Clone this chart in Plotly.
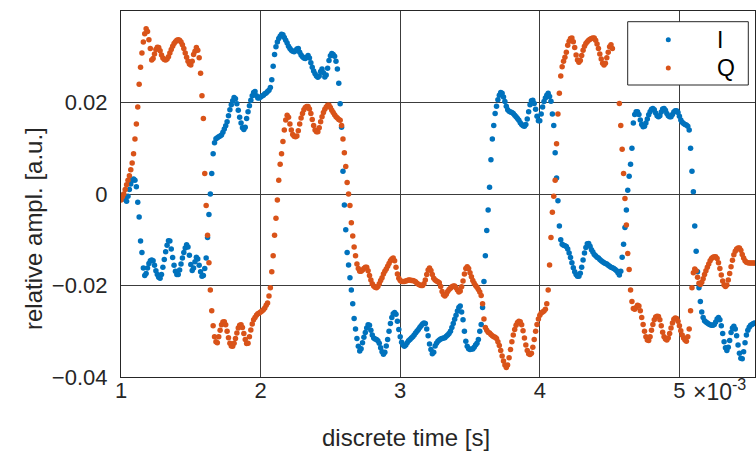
import plotly.graph_objects as go

# ---- data (time in ms, amplitudes in units of 1e-3) ----
t_start_ms = 1.00
t_step_ms = 0.01

i_milli = [
    -1.0, -0.3, -0.3, -1.2, -1.6, -0.5, 1.0, 2.2, 3.0, 3.3,
    3.0, 1.6, -1.8, -5.0, -10.3, -12.8, -16.2, -17.8, -17.4, -16.2,
    -15.2, -14.6, -14.4, -14.6, -15.6, -16.8, -17.6, -18.2, -18.4, -17.6,
    -16.0, -14.3, -12.6, -11.2, -10.2, -10.3, -12.0, -13.9, -15.6, -16.9,
    -17.6, -17.6, -16.6, -15.3, -14.0, -12.8, -11.8, -11.1, -11.6, -13.4,
    -15.4, -16.7, -16.2, -14.8, -13.8, -14.2, -15.6, -17.0, -18.0, -17.8,
    -16.3, -14.0, -9.5, -4.5, 0.0, 4.5, 8.8, 11.2, 12.1, 12.3,
    12.5, 12.7, 12.9, 13.5, 14.2, 14.9, 15.8, 17.1, 18.4, 19.5,
    20.4, 21.1, 20.8, 19.7, 18.3, 16.8, 15.5, 14.5, 14.1, 14.6,
    16.5, 18.0, 19.3, 20.5, 21.5, 22.2, 22.4, 21.5, 21.0, 21.0,
    21.2, 21.4, 21.6, 21.9, 22.1, 22.4, 22.7, 23.3, 25.0, 27.9,
    30.5, 32.2, 33.2, 34.0, 34.5, 34.9, 34.8, 34.2, 33.6, 33.0,
    32.3, 31.8, 31.4, 31.2, 31.1, 31.3, 31.7, 31.8, 31.0, 30.4,
    30.0, 29.7, 29.6, 29.9, 30.3, 29.7, 28.7, 27.7, 26.9, 26.3,
    25.8, 25.5, 25.8, 26.8, 27.3, 26.5, 25.6, 26.0, 27.5, 29.2,
    30.2, 30.7, 30.5, 30.1, 29.0, 27.3, 24.2, 19.7, 14.6, 5.0,
    -2.4, -7.8, -12.8, -15.5, -18.3, -21.0, -24.0, -27.2, -29.5, -31.6,
    -33.3, -34.3, -33.8, -32.5, -31.3, -30.3, -29.3, -28.6, -28.7, -29.8,
    -30.8, -31.5, -31.7, -31.8, -32.1, -32.6, -33.6, -34.5, -35.0, -34.6,
    -33.2, -31.8, -30.0, -28.3, -27.0, -26.2, -25.9, -26.3, -27.8, -29.6,
    -31.2, -32.4, -33.0, -33.3, -33.0, -32.5, -32.1, -31.8, -31.5, -31.2,
    -30.8, -30.4, -30.0, -29.6, -29.2, -28.8, -28.4, -28.2, -28.3, -29.5,
    -31.0, -32.8, -34.0, -34.9, -34.6, -33.2, -32.6, -32.2, -31.9, -31.7,
    -31.6, -31.5, -31.4, -31.1, -30.8, -30.5, -30.0, -29.2, -28.3, -27.4,
    -26.5, -25.6, -24.8, -24.5, -25.8, -27.5, -30.0, -32.2, -33.3, -33.8,
    -34.0, -33.9, -33.9, -33.5, -33.0, -32.6, -31.8, -30.0, -28.5, -24.8,
    -19.1, -13.5, -8.0, -3.5, 1.5, 7.5, 12.0, 15.0, 17.6, 19.2,
    20.6, 21.6, 22.2, 22.0, 21.2, 20.2, 19.2, 18.4, 18.1, 17.9,
    17.8, 17.6, 17.2, 16.9, 16.5, 16.1, 15.6, 15.2, 14.9, 14.8,
    15.2, 16.4, 18.0, 19.5, 20.4, 20.5, 19.8, 18.5, 17.0, 16.0,
    16.0, 17.5, 19.0, 20.2, 21.0, 21.6, 22.0, 21.3, 20.3, 17.5,
    15.0, 9.0, 3.5, -1.5, -7.0, -10.0, -11.0, -11.2, -11.3, -11.5,
    -12.0, -12.9, -13.9, -15.0, -16.1, -17.0, -17.6, -18.0, -18.0, -17.3,
    -16.0, -14.4, -12.9, -11.7, -10.9, -10.8, -11.4, -12.2, -12.7, -13.2,
    -13.5, -13.8, -14.0, -14.3, -14.6, -14.8, -15.0, -15.2, -15.3, -15.6,
    -15.8, -16.0, -16.1, -16.3, -16.5, -16.8, -17.2, -17.7, -16.9, -13.8,
    -11.0, -7.3, -3.5, 0.8, 3.9, 6.5, 10.0, 15.5, 17.4, 18.0,
    18.0, 17.4, 16.2, 15.2, 14.7, 14.8, 15.5, 16.4, 17.3, 18.0,
    18.5, 18.7, 18.4, 17.7, 17.1, 16.9, 17.1, 17.9, 18.6, 18.7,
    18.3, 17.6, 17.1, 16.9, 16.9, 17.4, 17.9, 18.2, 18.2, 17.8,
    17.0, 16.2, 15.7, 15.4, 15.2, 15.1, 14.8, 14.0, 10.0, 5.0,
    0.5, -7.0, -12.5, -17.0, -20.5, -23.5, -25.8, -27.0, -27.7, -28.0,
    -28.2, -28.4, -28.6, -28.7, -28.7, -28.5, -28.0, -27.3, -27.0, -27.5,
    -28.8, -30.5, -32.3, -33.6, -34.2, -33.5, -32.0, -30.3, -29.3, -28.9,
    -29.5, -31.0, -33.0, -34.8, -35.9, -36.0, -34.5, -32.5, -30.8, -29.8,
    -29.1, -28.7, -28.5, -28.3, -28.2,
]

q_milli = [
    -1.3, -0.6, 0.0, 1.0, 2.0, 3.0, 4.0, 5.3, 6.8, 8.8,
    12.0, 15.3, 19.0, 24.0, 27.7, 30.8, 33.2, 35.0, 36.1, 35.5,
    33.7, 31.8, 29.3, 29.6, 30.6, 31.6, 32.1, 32.0, 31.3, 30.4,
    29.7, 29.4, 29.3, 29.5, 30.0, 30.8, 31.6, 32.3, 32.9, 33.3,
    33.6, 33.7, 33.6, 33.2, 32.6, 31.8, 30.8, 29.9, 29.0, 28.4,
    28.2, 29.0, 30.5, 31.2, 32.0, 31.4, 29.8, 26.4, 21.5, 16.5,
    4.5, -2.5, -9.0, -15.0, -21.0, -25.5, -28.8, -31.2, -32.3, -32.5,
    -31.2, -29.8, -28.6, -28.0, -27.9, -28.6, -30.0, -31.4, -32.6, -33.2,
    -33.3, -32.6, -31.6, -30.4, -29.3, -28.7, -28.6, -29.2, -30.5, -31.8,
    -32.7, -32.6, -31.2, -29.7, -28.4, -27.5, -27.0, -26.5, -26.2, -26.0,
    -25.8, -25.6, -25.3, -24.9, -24.3, -23.8, -22.3, -20.5, -17.0, -13.5,
    -9.0, -5.3, -1.3, 3.0, 6.5, 8.8, 11.5, 14.0, 16.2, 17.2,
    16.8, 15.3, 14.0, 13.0, 12.6, 12.5, 12.7, 13.8, 15.3, 16.6,
    17.6, 18.4, 18.9, 19.1, 19.1, 18.6, 17.6, 16.3, 15.0, 14.0,
    13.6, 13.6, 14.5, 15.8, 16.9, 17.8, 18.5, 19.0, 19.4, 19.4,
    18.9, 18.3, 17.8, 17.3, 16.9, 16.6, 16.3, 16.1, 15.0, 12.0,
    9.0, 6.0, 2.5, 0.0, -2.5, -6.3, -9.2, -11.6, -13.5, -15.3,
    -16.3, -16.9, -16.9, -16.6, -16.3, -16.0, -16.0, -16.8, -17.8, -18.8,
    -19.6, -20.1, -20.4, -20.5, -20.2, -19.6, -18.9, -18.3, -17.5, -16.9,
    -16.4, -15.8, -15.2, -14.6, -14.2, -14.0, -14.6, -16.0, -17.5, -18.4,
    -18.9, -19.1, -19.1, -19.1, -19.0, -18.9, -18.8, -18.8, -18.9, -18.9,
    -19.0, -19.2, -19.5, -19.7, -19.9, -20.0, -20.0, -19.6, -18.8, -17.6,
    -16.6, -16.2, -16.7, -17.6, -18.4, -18.8, -19.0, -19.2, -19.4, -20.2,
    -21.3, -22.0, -22.3, -21.9, -21.3, -20.9, -20.6, -20.3, -20.1, -20.1,
    -20.5, -21.0, -21.4, -21.2, -20.3, -19.0, -17.5, -16.3, -15.9, -16.3,
    -17.2, -18.1, -18.9, -19.5, -20.0, -20.4, -20.9, -21.4, -22.2, -24.0,
    -27.3, -29.2, -29.8, -30.2, -30.4, -30.7, -31.0, -31.2, -31.3, -31.6,
    -32.3, -33.1, -34.2, -35.4, -36.5, -37.4, -37.9, -37.4, -35.8, -34.0,
    -32.3, -30.8, -29.6, -28.7, -28.1, -27.8, -27.9, -28.6, -29.9, -31.5,
    -33.0, -34.2, -34.9, -35.1, -34.8, -33.5, -31.8, -30.0, -28.5, -27.3,
    -26.5, -26.0, -25.8, -25.6, -25.2, -24.0, -21.0, -15.5, -9.5, -4.0,
    -0.5, 3.0, 11.0, 17.5, 22.0, 25.8, 27.8, 29.0, 29.9, 31.0,
    32.5, 33.4, 34.0, 34.1, 33.3, 32.0, 30.4, 29.3, 28.8, 29.2,
    30.3, 31.4, 32.3, 32.9, 33.3, 33.6, 33.8, 34.0, 34.1, 34.1,
    33.6, 32.8, 31.8, 30.6, 29.5, 28.6, 28.2, 28.6, 29.8, 31.0,
    32.2, 32.6, 31.8, None, None, None, None, 19.8, 15.0, 9.8,
    4.5, -1.0, -6.8, -13.0, -16.5, -21.0, -23.5, -25.0, -25.2, -24.8,
    -24.3, -24.5, -25.5, -27.0, -28.5, -30.0, -31.2, -31.9, -32.0, -31.2,
    -29.8, -28.5, -27.5, -26.9, -26.7, -26.8, -27.5, -28.8, -30.2, -31.2,
    -31.7, -31.9, -31.5, -30.5, -29.3, -28.2, -27.4, -27.1, -27.2, -27.8,
    -28.8, -29.9, -30.8, -31.5, -31.9, -32.2, -31.2, -29.5, -25.5, -20.5,
    -17.2, -16.4, -16.8, -18.2, -19.5, -19.8, -19.3, -18.5, -17.6, -16.8,
    -16.0, -15.3, -14.6, -14.1, -13.8, -13.7, -13.7, -14.1, -15.0, -16.3,
    -17.7, -19.0, -19.9, -20.2, -19.9, -18.8, -17.4, -15.9, -14.5, -13.3,
    -12.5, -12.0, -11.8, -11.8, -12.3, -13.2, -14.0, -14.6, -14.9, -15.0,
    -15.1, -15.1, -15.1, -15.1, -15.1,
]

series_names = ["I", "Q"]
series_colors = ["#0072BD", "#D95319"]

x_tick_vals = [1, 2, 3, 4, 5]
x_tick_text = ["1", "2", "3", "4", "5"]
y_tick_vals = [-0.04, -0.02, 0.0, 0.02]
y_tick_text = ["\u22120.04", "\u22120.02", "0", "0.02"]

x_title = "discrete time [s]"
y_title = "relative ampl. [a.u.]"
x_exponent = "\u00d710<sup>-3</sup>"

# ---- build ----
n = len(i_milli)
t_ms = [round(t_start_ms + k * t_step_ms, 2) for k in range(n)]
i_vals = [None if v is None else v * 1e-3 for v in i_milli]
q_vals = [None if v is None else v * 1e-3 for v in q_milli]

FONT = "Liberation Sans, Arial, Helvetica, sans-serif"
TXT = "#262626"
W, H = 756, 452
ML, MR, MT, MB = 121, 1, 11, 75
PW, PH = W - ML - MR, H - MT - MB


def px_x(px):
    return (px - ML) / PW


def px_y(py):
    return (H - MB - py) / PH


fig = go.Figure()
for name, vals, col in zip(series_names, [i_vals, q_vals], series_colors):
    fig.add_trace(go.Scatter(
        x=t_ms, y=vals, mode="markers", name=name, showlegend=False,
        marker=dict(color=col, size=5.5, line=dict(width=0)),
    ))

axis_common = dict(
    showgrid=True, gridcolor="#3c3c3c", gridwidth=1,
    showline=True, linecolor=TXT, linewidth=1.2, mirror=True,
    zeroline=False, ticks="",
    tickfont=dict(family=FONT, size=22, color=TXT),
)

# legend (drawn as box + keys + labels, placed like the reference)
leg_box = (627.7, 21.7, 748.3, 85.0)
leg_key_x = 668.3
leg_text_x = 714.5
leg_rows_y = [39.7, 68.0]
shapes = [dict(type="rect", xref="paper", yref="paper", layer="above",
               x0=px_x(leg_box[0]), x1=px_x(leg_box[2]),
               y0=px_y(leg_box[3]), y1=px_y(leg_box[1]),
               line=dict(color=TXT, width=1), fillcolor="white")]
annotations = []
r = 2.5
for name, col, ry in zip(series_names, series_colors, leg_rows_y):
    shapes.append(dict(type="circle", xref="paper", yref="paper", layer="above",
                       x0=px_x(leg_key_x - r), x1=px_x(leg_key_x + r),
                       y0=px_y(ry + r), y1=px_y(ry - r),
                       line=dict(width=0), fillcolor=col))
    annotations.append(dict(text=name, xref="paper", yref="paper",
                            x=px_x(leg_text_x), y=px_y(ry), xanchor="left",
                            yanchor="middle", showarrow=False,
                            font=dict(family=FONT, size=23, color="black")))

annotations += [
    dict(text=x_title, xref="paper", yref="paper", x=px_x(406), y=px_y(437),
         xanchor="center", yanchor="middle", showarrow=False,
         font=dict(family=FONT, size=24, color=TXT)),
    dict(text=y_title, xref="paper", yref="paper", x=px_x(33), y=px_y(229),
         xanchor="center", yanchor="middle", textangle=-90, showarrow=False,
         font=dict(family=FONT, size=24, color=TXT)),
    dict(text=x_exponent, xref="paper", yref="paper", x=px_x(691), y=px_y(390),
         xanchor="left", yanchor="middle", showarrow=False,
         font=dict(family=FONT, size=23, color=TXT)),
]

fig.update_layout(
    width=W, height=H,
    margin=dict(l=ML, r=MR, t=MT, b=MB),
    paper_bgcolor="white", plot_bgcolor="white",
    font=dict(family=FONT, size=22, color=TXT),
    xaxis=dict(range=[1.0, 5.5415], tickvals=x_tick_vals, ticktext=x_tick_text,
               ticklabelstandoff=-7, **axis_common),
    yaxis=dict(range=[-0.04, 0.04], tickvals=y_tick_vals, ticktext=y_tick_text,
               ticklabelstandoff=8, **axis_common),
    showlegend=False,
    shapes=shapes,
    annotations=annotations,
)

fig.write_html("out.html", config={"displayModeBar": False},
               post_script="document.body.style.margin='0px';")
